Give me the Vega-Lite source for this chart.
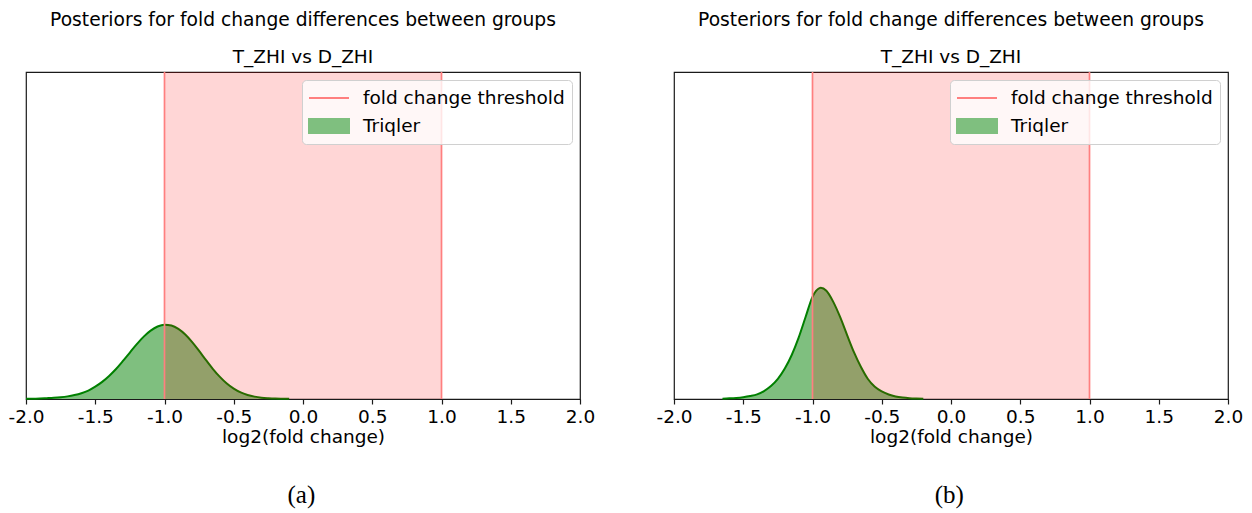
{
  "$schema": "https://vega.github.io/schema/vega-lite/v6.json",
  "padding": {"left": 7, "top": 10, "right": 5, "bottom": 5},
  "background": "white",
  "spacing": 59,
  "resolve": {"scale": {"color": "independent"}, "legend": {"color": "independent"}},
  "config": {
    "view": {"stroke": "#1a1a1a", "strokeWidth": 1.2},
    "font": "DejaVu Sans",
    "title": {"font": "DejaVu Sans", "fontSize": 18.7, "fontWeight": "normal", "color": "black", "subtitleFont": "DejaVu Sans", "subtitleFontSize": 18.5, "subtitleColor": "black", "subtitlePadding": 18, "offset": 5},
    "axisX": {
      "labelExpr": "(datum.value < 0 ? '-' : '') + format(abs(datum.value), '.1f')",
      "labelFont": "DejaVu Sans", "labelFontSize": 18.5, "labelColor": "black", "labelPadding": 3,
      "labelFlush": false, "labelOverlap": false, "labelBound": false,
      "tickColor": "#1a1a1a", "tickSize": 5, "tickWidth": 1.2,
      "domainColor": "#1a1a1a", "domainWidth": 1.2, "grid": false,
      "titleFont": "DejaVu Sans", "titleFontSize": 18.5, "titleFontWeight": "normal", "titleColor": "black", "titlePadding": 2
    },
    "legend": {"title": null, "orient": "top-right", "offset": 8, "padding": 7,
      "labelFont": "DejaVu Sans", "labelFontSize": 18.5, "labelColor": "black", "labelLimit": 400,
      "fillColor": "rgba(255,255,255,0.8)", "strokeColor": "#d0d0d0", "cornerRadius": 4,
      "symbolSize": 400, "labelOffset": 32, "rowPadding": 7}
  },
  "datasets": {
    "a": [
      {"log2fc": -2.0, "density": 0.006}, {"log2fc": -1.95, "density": 0.007}, {"log2fc": -1.9, "density": 0.011},
      {"log2fc": -1.85, "density": 0.017}, {"log2fc": -1.8, "density": 0.024}, {"log2fc": -1.75, "density": 0.035},
      {"log2fc": -1.7, "density": 0.052}, {"log2fc": -1.65, "density": 0.078}, {"log2fc": -1.6, "density": 0.115},
      {"log2fc": -1.55, "density": 0.168}, {"log2fc": -1.5, "density": 0.246}, {"log2fc": -1.45, "density": 0.341},
      {"log2fc": -1.4, "density": 0.458}, {"log2fc": -1.35, "density": 0.596}, {"log2fc": -1.3, "density": 0.756},
      {"log2fc": -1.25, "density": 0.924}, {"log2fc": -1.2, "density": 1.089}, {"log2fc": -1.15, "density": 1.24},
      {"log2fc": -1.1, "density": 1.359}, {"log2fc": -1.05, "density": 1.441}, {"log2fc": -1.0, "density": 1.477},
      {"log2fc": -0.95, "density": 1.46}, {"log2fc": -0.9, "density": 1.393}, {"log2fc": -0.85, "density": 1.281},
      {"log2fc": -0.8, "density": 1.13}, {"log2fc": -0.75, "density": 0.955}, {"log2fc": -0.7, "density": 0.773},
      {"log2fc": -0.65, "density": 0.596}, {"log2fc": -0.6, "density": 0.439}, {"log2fc": -0.55, "density": 0.307},
      {"log2fc": -0.5, "density": 0.205}, {"log2fc": -0.45, "density": 0.13}, {"log2fc": -0.4, "density": 0.08},
      {"log2fc": -0.35, "density": 0.047}, {"log2fc": -0.3, "density": 0.026}, {"log2fc": -0.25, "density": 0.015},
      {"log2fc": -0.2, "density": 0.008}, {"log2fc": -0.15, "density": 0.005}, {"log2fc": -0.1, "density": 0.003}
    ],
    "b": [
      {"log2fc": -1.65, "density": 0.007}, {"log2fc": -1.6, "density": 0.013}, {"log2fc": -1.55, "density": 0.022},
      {"log2fc": -1.5, "density": 0.037}, {"log2fc": -1.45, "density": 0.06}, {"log2fc": -1.4, "density": 0.093},
      {"log2fc": -1.35, "density": 0.158}, {"log2fc": -1.3, "density": 0.257}, {"log2fc": -1.25, "density": 0.4},
      {"log2fc": -1.2, "density": 0.605}, {"log2fc": -1.15, "density": 0.875}, {"log2fc": -1.1, "density": 1.22},
      {"log2fc": -1.05, "density": 1.629}, {"log2fc": -1.0, "density": 2.03}, {"log2fc": -0.95, "density": 2.203},
      {"log2fc": -0.94, "density": 2.21}, {"log2fc": -0.9, "density": 2.151}, {"log2fc": -0.85, "density": 1.931},
      {"log2fc": -0.8, "density": 1.626}, {"log2fc": -0.75, "density": 1.27}, {"log2fc": -0.7, "density": 0.926},
      {"log2fc": -0.65, "density": 0.635}, {"log2fc": -0.6, "density": 0.397}, {"log2fc": -0.55, "density": 0.242},
      {"log2fc": -0.5, "density": 0.15}, {"log2fc": -0.45, "density": 0.089}, {"log2fc": -0.4, "density": 0.05},
      {"log2fc": -0.35, "density": 0.028}, {"log2fc": -0.3, "density": 0.015}, {"log2fc": -0.25, "density": 0.009},
      {"log2fc": -0.2, "density": 0.006}
    ],
    "thr": [{"threshold": -1}, {"threshold": 1}],
    "span": [{"lo": -1, "hi": 1}]
  },
  "hconcat": [
    {
      "title": {"text": "(a)", "orient": "bottom", "anchor": "middle", "font": "Liberation Serif", "fontSize": 25, "fontWeight": "normal", "color": "black", "offset": 36},
      "resolve": {"scale": {"color": "independent"}, "legend": {"color": "independent"}},
      "vconcat": [{
        "width": 554, "height": 327,
        "title": {"text": "Posteriors for fold change differences between groups", "subtitle": "T_ZHI vs D_ZHI", "anchor": "middle"},
        "layer": [
          {"data": {"name": "a"}, "mark": {"type": "area", "interpolate": "monotone"},
           "encoding": {
             "x": {"field": "log2fc", "type": "quantitative", "scale": {"domain": [-2, 2]}, "title": "log2(fold change)",
                   "axis": {"values": [-2, -1.5, -1, -0.5, 0, 0.5, 1, 1.5, 2]}},
             "y": {"field": "density", "type": "quantitative", "scale": {"domain": [0, 6.09]}, "axis": null},
             "color": {"datum": "Triqler", "type": "nominal",
               "scale": {"domain": ["fold change threshold", "Triqler"], "range": ["#ff7f7f", "#7fbf7f"]},
               "legend": {
                 "encode": {"symbols": {"update": {
                   "shape": {"signal": "datum.value === 'Triqler' ? 'M-1.1,-0.7H2.9V0.7H-1.1Z' : 'M-1.1,0H2.9'"},
                   "fill": {"signal": "datum.value === 'Triqler' ? '#7fbf7f' : 'transparent'"},
                   "stroke": {"signal": "datum.value === 'Triqler' ? 'transparent' : '#ff7f7f'"},
                   "strokeWidth": {"value": 2},
                   "opacity": {"value": 1}
                 }}}}}
           }},
          {"data": {"name": "a"}, "mark": {"type": "line", "color": "#008000", "strokeWidth": 2, "interpolate": "monotone"},
           "encoding": {"x": {"field": "log2fc", "type": "quantitative"}, "y": {"field": "density", "type": "quantitative"}}},
          {"data": {"name": "span"}, "mark": {"type": "rect", "color": "#ff0000", "opacity": 0.16},
           "encoding": {"x": {"field": "lo", "type": "quantitative"}, "x2": {"field": "hi"}}},
          {"data": {"name": "thr"}, "mark": {"type": "rule", "strokeWidth": 1.7},
           "encoding": {"x": {"field": "threshold", "type": "quantitative"}, "color": {"datum": "fold change threshold", "type": "nominal"}}}
        ]
      }]
    },
    {
      "title": {"text": "(b)", "orient": "bottom", "anchor": "middle", "font": "Liberation Serif", "fontSize": 25, "fontWeight": "normal", "color": "black", "offset": 36},
      "resolve": {"scale": {"color": "independent"}, "legend": {"color": "independent"}},
      "vconcat": [{
        "width": 554, "height": 327,
        "title": {"text": "Posteriors for fold change differences between groups", "subtitle": "T_ZHI vs D_ZHI", "anchor": "middle"},
        "layer": [
          {"data": {"name": "b"}, "mark": {"type": "area", "interpolate": "monotone"},
           "encoding": {
             "x": {"field": "log2fc", "type": "quantitative", "scale": {"domain": [-2, 2]}, "title": "log2(fold change)",
                   "axis": {"values": [-2, -1.5, -1, -0.5, 0, 0.5, 1, 1.5, 2]}},
             "y": {"field": "density", "type": "quantitative", "scale": {"domain": [0, 6.09]}, "axis": null},
             "color": {"datum": "Triqler", "type": "nominal",
               "scale": {"domain": ["fold change threshold", "Triqler"], "range": ["#ff7f7f", "#7fbf7f"]},
               "legend": {
                 "encode": {"symbols": {"update": {
                   "shape": {"signal": "datum.value === 'Triqler' ? 'M-1.1,-0.7H2.9V0.7H-1.1Z' : 'M-1.1,0H2.9'"},
                   "fill": {"signal": "datum.value === 'Triqler' ? '#7fbf7f' : 'transparent'"},
                   "stroke": {"signal": "datum.value === 'Triqler' ? 'transparent' : '#ff7f7f'"},
                   "strokeWidth": {"value": 2},
                   "opacity": {"value": 1}
                 }}}}}
           }},
          {"data": {"name": "b"}, "mark": {"type": "line", "color": "#008000", "strokeWidth": 2, "interpolate": "monotone"},
           "encoding": {"x": {"field": "log2fc", "type": "quantitative"}, "y": {"field": "density", "type": "quantitative"}}},
          {"data": {"name": "span"}, "mark": {"type": "rect", "color": "#ff0000", "opacity": 0.16},
           "encoding": {"x": {"field": "lo", "type": "quantitative"}, "x2": {"field": "hi"}}},
          {"data": {"name": "thr"}, "mark": {"type": "rule", "strokeWidth": 1.7},
           "encoding": {"x": {"field": "threshold", "type": "quantitative"}, "color": {"datum": "fold change threshold", "type": "nominal"}}}
        ]
      }]
    }
  ]
}
